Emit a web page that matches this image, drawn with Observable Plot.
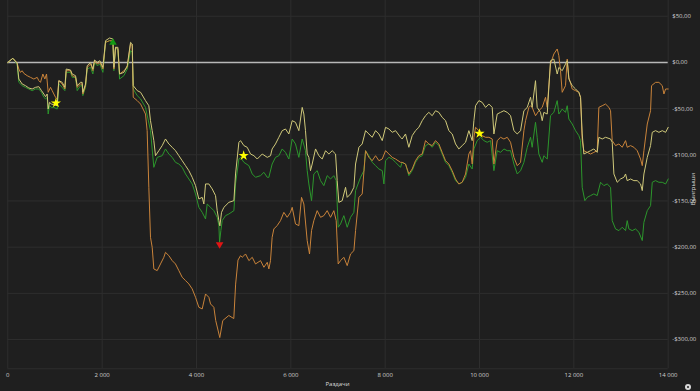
<!DOCTYPE html>
<html><head><meta charset="utf-8">
<script src="https://cdn.jsdelivr.net/npm/d3@7"></script>
<script src="https://cdn.jsdelivr.net/npm/@observablehq/plot@0.6"></script>
<style>
html,body{margin:0;padding:0;background:#1f1f1f;}
#wrap{position:relative;width:700px;height:391px;overflow:hidden;background:#1f1f1f;font-family:"Open Sans",sans-serif;}
#wrap svg{position:absolute;left:0;top:0;}
.ttl{position:absolute;color:#dcdcdc;font-size:6px;white-space:nowrap;}
#xt{left:337.5px;top:380px;transform:translateX(-50%);}
#yt{left:693px;top:189px;transform:translate(-50%,-50%) rotate(-90deg);}
#icon{position:absolute;left:685px;top:384px;width:6px;height:6px;border-radius:50%;background:#d8d8d8;}
#icon::after{content:"";position:absolute;left:2px;top:2px;width:2px;height:2px;border-radius:50%;background:#1f1f1f;}
</style></head><body>
<div id="wrap"><div class="ttl" id="xt">Раздачи</div><div class="ttl" id="yt">Выигрыши</div><div id="icon"></div></div>
<script>
// Hands, winnings ($)
const greenSeries = [
[0,0],[107,4.4],[198,-1.8],[234,-21.6],[305,-25.2],[375,-27.0],[446,-28.8],[517,-30.6],[587,-28.8],[658,-28.8],[715,-32.4],[764,-37.8],[800,-39.6],[835,-37.8],[856,-55.9],[884,-46.9],[927,-48.7],[976,-48.7],[1047,-50.5],[1082,-23.4],[1153,-27.0],[1210,-30.6],[1238,-10.8],[1330,-10.8],[1365,-16.2],[1436,-16.2],[1471,-30.6],[1542,-25.2],[1577,-25.2],[1591,-36.0],[1648,-27.0],[1683,-7.2],[1754,-5.4],[1803,-12.6],[1839,0],[1895,-3.6],[1952,-1.8],[2016,-10.8],[2072,21.7],[2157,23.5],[2228,21.7],[2249,-9.0],[2284,16.3],[2334,12.7],[2369,-18.0],[2461,-14.4],[2532,-7.2],[2602,12.7],[2638,10.9],[2659,-28.8],[2744,-36.0],[2815,-39.6],
[2919,-48.7],[3025,-73.9],[3096,-113.6],[3167,-102.8],[3273,-101.0],[3343,-93.7],[3414,-99.2],[3485,-102.8],[3555,-108.2],[3626,-110.0],[3697,-113.6],[3768,-120.8],[3838,-126.2],[3909,-131.6],[3980,-142.4],[4050,-156.9],[4121,-162.3],[4192,-169.5],[4227,-153.3],[4298,-156.9],[4368,-160.5],[4439,-167.7],[4475,-176.7],[4489,-194.7],[4517,-182.1],[4545,-171.3],[4616,-165.9],[4687,-164.1],[4793,-160.5],[4828,-131.6],[4899,-104.6],[4934,-102.8],[5005,-108.2],[5111,-111.8],[5182,-120.8],[5252,-124.4],[5358,-122.6],[5429,-119.0],[5500,-124.4],[5534,-124.4],
[5604,-110.0],[5675,-102.8],[5746,-101.0],[5817,-93.7],[5887,-97.4],[5958,-104.6],[6029,-82.9],[6099,-88.3],[6170,-102.8],[6241,-82.9],[6311,-95.6],[6347,-117.2],[6382,-131.6],[6439,-149.7],[6488,-120.8],[6559,-117.2],[6630,-128.0],[6700,-133.4],[6771,-122.6],[6842,-126.2],[6912,-122.6],[6962,-128.0],[7004,-178.5],[7054,-174.9],[7124,-165.9],[7195,-178.5],[7266,-167.7],[7337,-162.3],[7372,-138.8],[7478,-124.4],[7549,-117.2],[7584,-95.6],[7655,-101.0],[7725,-108.2],[7796,-111.8],[7867,-115.4],[7938,-117.2],[7973,-131.6],[8008,-106.4],[8079,-102.8],[8150,-104.6],[8220,-108.2],[8326,-113.6],
[8360,-108.2],[8431,-110.0],[8502,-122.6],[8573,-117.2],[8643,-108.2],[8714,-102.8],[8785,-101.0],[8855,-90.1],[8926,-88.3],[8997,-91.9],[9067,-86.5],[9138,-90.1],[9209,-99.2],[9280,-108.2],[9350,-111.8],[9421,-119.0],[9492,-128.0],[9562,-131.6],[9633,-129.8],[9704,-124.4],[9774,-110.0],[9845,-115.4],[9881,-93.7],[9951,-84.7],[10022,-81.1],[10093,-84.7],[10163,-86.5],[10234,-84.7],[10305,-117.2],[10375,-95.6],[10446,-97.4],[10517,-93.7],[10587,-95.6],[10658,-95.6],[10729,-110.0],[10800,-120.8],[10870,-117.2],[10941,-108.2],[11012,-91.9],[11082,-81.1],
[11116,-91.9],[11187,-64.9],[11222,-81.1],[11258,-99.2],[11329,-108.2],[11364,-101.0],[11435,-104.6],[11505,-57.7],[11576,-54.1],[11647,-41.4],[11682,-55.9],[11753,-50.5],[11823,-54.1],[11859,-46.9],[11894,-61.3],[11965,-66.7],[12036,-73.9],[12106,-79.3],[12142,-84.7],[12177,-135.2],[12233,-149.7],[12283,-146.1],[12354,-144.2],[12424,-142.4],[12495,-144.2],[12566,-129.8],[12636,-133.4],[12707,-131.6],[12778,-135.2],[12813,-171.3],[12884,-180.3],[12955,-182.1],[13025,-178.5],[13096,-182.1],[13131,-171.3],[13167,-180.3],[13237,-182.1],[13308,-180.3],[13379,-183.9],[13450,-192.9],[13485,-173.1],[13556,-160.5],[13626,-155.1],[13662,-129.8],[13732,-128.0],[13803,-129.8],[13874,-129.8],[13945,-131.6],[14000,-126.2]
];
const yellowSeries = [
[0,0],[107,4.4],[198,-0.7],[234,-18.0],[305,-23.4],[375,-25.2],[446,-27.7],[517,-28.8],[587,-27.0],[658,-26.3],[715,-30.6],[764,-34.2],[800,-37.1],[835,-34.2],[856,-50.5],[884,-43.3],[927,-45.1],[976,-45.8],[1047,-46.9],[1082,-19.8],[1153,-21.6],[1210,-27.0],[1238,-7.2],[1330,-8.3],[1365,-12.6],[1436,-14.4],[1471,-25.2],[1542,-21.6],[1577,-21.6],[1591,-32.4],[1648,-23.4],[1683,-3.6],[1754,0],[1803,-7.2],[1839,2.6],[1895,0],[1952,1.8],[2016,-5.4],[2072,23.5],[2157,26.4],[2228,25.3],[2249,-5.4],[2284,16.3],[2334,16.3],[2369,-12.6],[2461,-10.8],[2532,-3.6],[2602,21.7],[2638,19.9],[2659,-25.2],[2744,-30.6],[2815,-32.4],
[2919,-41.4],[2990,-46.9],[3025,-63.1],[3061,-73.9],[3096,-84.7],[3131,-101.0],[3202,-95.6],[3273,-90.1],[3343,-82.9],[3414,-88.3],[3485,-91.9],[3555,-95.6],[3626,-101.0],[3697,-106.4],[3768,-111.8],[3838,-117.2],[3909,-124.4],[3980,-133.4],[4050,-147.9],[4121,-146.1],[4156,-153.3],[4192,-131.6],[4262,-131.6],[4333,-137.0],[4404,-144.2],[4439,-160.5],[4475,-171.3],[4496,-177.0],[4531,-162.3],[4581,-156.9],[4687,-151.5],[4793,-149.7],[4828,-120.8],[4899,-86.5],[4934,-84.7],[5005,-90.1],[5075,-91.9],[5146,-99.2],[5217,-101.0],[5288,-104.6],[5394,-99.2],[5500,-102.8],[5570,-101.0],
[5604,-93.7],[5675,-88.3],[5746,-81.1],[5817,-73.9],[5887,-72.1],[5958,-77.5],[6029,-63.1],[6099,-64.9],[6170,-73.9],[6241,-48.7],[6276,-55.9],[6311,-73.9],[6347,-99.2],[6382,-102.8],[6417,-117.2],[6453,-110.0],[6524,-93.7],[6594,-101.0],[6665,-104.6],[6736,-95.6],[6806,-99.2],[6877,-95.6],[6948,-99.2],[6983,-128.0],[7018,-151.5],[7089,-149.7],[7160,-135.2],[7195,-146.1],[7266,-142.4],[7337,-135.2],[7372,-110.0],[7443,-91.9],[7513,-88.3],[7584,-73.9],[7655,-77.5],[7725,-81.1],[7796,-73.9],[7867,-77.5],[7938,-84.7],[8008,-70.3],[8079,-72.1],[8150,-75.7],[8220,-73.9],[8326,-81.1],
[8360,-82.9],[8431,-77.5],[8502,-91.9],[8573,-79.3],[8643,-73.9],[8714,-70.3],[8785,-63.1],[8855,-57.7],[8926,-54.1],[8997,-57.7],[9067,-52.3],[9138,-54.1],[9209,-59.5],[9280,-63.1],[9350,-73.9],[9421,-77.5],[9492,-88.3],[9562,-93.7],[9633,-90.1],[9704,-86.5],[9774,-73.9],[9845,-84.7],[9881,-63.1],[9916,-46.9],[9987,-41.4],[10057,-43.3],[10128,-48.7],[10199,-45.1],[10269,-48.7],[10305,-77.5],[10375,-55.9],[10446,-54.1],[10517,-52.3],[10587,-54.1],[10658,-57.7],[10729,-73.9],[10800,-77.5],[10870,-73.9],[10941,-52.3],[11012,-48.7],[11082,-37.8],
[11116,-48.7],[11187,-19.8],[11222,-48.7],[11293,-54.1],[11329,-63.1],[11364,-54.1],[11435,-55.9],[11505,1.8],[11576,3.6],[11647,-12.6],[11682,-5.4],[11753,-9.0],[11823,-1.8],[11859,1.8],[11894,-18.0],[11965,-25.2],[12036,-28.8],[12106,-32.4],[12142,-37.8],[12177,-77.5],[12212,-99.2],[12283,-97.4],[12354,-95.6],[12424,-93.7],[12495,-97.4],[12530,-81.1],[12601,-82.9],[12672,-81.1],[12778,-82.9],[12813,-86.5],[12849,-120.8],[12919,-129.8],[12990,-126.2],[13061,-124.4],[13096,-120.8],[13131,-128.0],[13202,-126.2],[13273,-128.0],[13343,-128.0],[13414,-131.6],[13450,-138.8],[13485,-120.8],[13556,-102.8],[13626,-90.1],[13662,-75.7],[13732,-73.9],[13803,-75.7],[13874,-73.9],[13945,-75.7],[14000,-70.3]
];
const orangeSeries = [
[0,0],[107,4.4],[198,-0.7],[234,-7.2],[269,-10.8],[305,-9.0],[340,-11.9],[411,-14.4],[481,-16.2],[552,-18.0],[623,-16.2],[658,-19.8],[693,-21.6],[743,-12.6],[785,-18.0],[821,-12.6],[856,-32.4],[906,-27.0],[941,-30.6],[976,-34.2],[1012,-37.8],[1047,-39.6],[1082,-19.8],[1153,-23.4],[1210,-28.8],[1238,-9.0],[1330,-9.0],[1365,-14.4],[1436,-16.2],[1471,-27.0],[1542,-23.4],[1577,-23.4],[1591,-34.2],[1648,-25.2],[1683,-5.4],[1754,-1.8],[1803,-9.0],[1839,1.8],[1895,-1.8],[1952,0],[2016,-7.2],[2072,21.7],[2157,23.5],[2228,23.5],[2249,-7.2],[2284,16.3],[2334,14.5],[2369,-12.6],[2461,-9.0],[2532,-5.4],[2602,19.9],[2638,18.1],[2659,-37.8],[2744,-41.4],[2815,-45.1],
[2919,-55.9],[2954,-73.9],[2990,-135.2],[3025,-189.3],[3061,-200.2],[3096,-223.6],[3167,-225.4],[3237,-218.2],[3308,-211.0],[3343,-205.6],[3414,-209.2],[3485,-214.6],[3555,-218.2],[3626,-225.4],[3697,-232.6],[3768,-236.2],[3838,-239.8],[3909,-245.2],[3980,-254.3],[4050,-265.1],[4121,-266.9],[4192,-250.7],[4262,-254.3],[4298,-261.5],[4368,-265.1],[4408,-279.5],[4494,-297.9],[4557,-279.5],[4685,-274.0],[4791,-277.3],[4830,-240.0],[4880,-214.0],[4934,-209.2],[4969,-211.0],[5040,-207.4],[5111,-214.6],[5182,-211.0],[5252,-218.2],[5358,-214.6],[5429,-221.8],[5500,-216.4],[5534,-223.6],
[5569,-214.6],[5604,-189.3],[5640,-180.3],[5710,-176.7],[5781,-171.3],[5852,-162.3],[5923,-167.7],[5993,-162.3],[6029,-156.9],[6099,-174.9],[6170,-176.7],[6227,-146.1],[6276,-153.3],[6347,-192.9],[6396,-207.4],[6439,-182.1],[6488,-171.3],[6559,-160.5],[6630,-167.7],[6700,-165.9],[6771,-160.5],[6842,-167.7],[6912,-160.5],[6962,-171.3],[7004,-218.2],[7054,-214.6],[7124,-211.0],[7195,-220.0],[7266,-207.4],[7337,-203.8],[7372,-182.1],[7443,-146.1],[7513,-142.4],[7584,-95.6],[7655,-102.8],[7725,-106.4],[7796,-101.0],[7867,-106.4],[7938,-104.6],[8008,-95.6],[8079,-99.2],[8150,-102.8],[8220,-104.6],[8326,-108.2],
[8360,-108.2],[8431,-110.0],[8502,-120.8],[8573,-115.4],[8643,-106.4],[8714,-101.0],[8785,-99.2],[8855,-84.7],[8926,-88.3],[8997,-90.1],[9067,-84.7],[9138,-88.3],[9209,-97.4],[9280,-106.4],[9350,-110.0],[9421,-117.2],[9492,-126.2],[9562,-131.6],[9633,-129.8],[9704,-120.8],[9774,-99.2],[9810,-95.6],[9845,-110.0],[9881,-81.1],[9916,-70.3],[9987,-73.9],[10057,-79.3],[10128,-81.1],[10199,-81.1],[10269,-82.9],[10305,-110.0],[10375,-84.7],[10446,-81.1],[10517,-82.9],[10587,-81.1],[10658,-86.5],[10729,-102.8],[10800,-111.8],[10870,-108.2],[10941,-73.9],[10976,-63.1],[11047,-48.7],[11082,-46.9],
[11116,-48.7],[11187,-57.7],[11258,-52.3],[11329,-48.7],[11399,-37.8],[11435,-48.7],[11505,-1.8],[11576,9.1],[11647,14.5],[11682,7.2],[11717,-9.0],[11753,-32.4],[11823,-25.2],[11859,3.6],[11894,-16.2],[11965,-28.8],[12036,-30.6],[12106,-32.4],[12142,-37.8],[12177,-84.7],[12212,-95.6],[12283,-97.4],[12354,-99.2],[12424,-97.4],[12495,-95.6],[12530,-48.7],[12601,-46.9],[12672,-45.1],[12743,-48.7],[12778,-52.3],[12813,-84.7],[12884,-90.1],[12955,-88.3],[13025,-91.9],[13096,-84.7],[13131,-91.9],[13202,-90.1],[13273,-91.9],[13343,-95.6],[13414,-104.6],[13450,-111.8],[13485,-95.6],[13556,-66.7],[13626,-52.3],[13647,-25.2],[13732,-21.6],[13803,-21.6],[13874,-25.2],[13909,-34.2],[13945,-28.8],[14000,-28.8]
];
const starMarkers = [[1020,-44],[5000,-101],[10000,-77]];
const maxMarker = [[2230,21.5]];
const minMarker = [[4490,-197]];
const xTicks = [0,2000,4000,6000,8000,10000,12000,14000];
const yTicks = [50,0,-50,-100,-150,-200,-250,-300];
const yDomain = [-331.7, 67];

const gridColor = "#2e2e2e";
const fmtX = v => v >= 1000 ? `${Math.floor(v/1000)} ${String(v%1000).padStart(3,"0")}` : String(v);
const fmtY = v => `${v < 0 ? "-" : ""}$${Math.abs(v)},00`;
const X = d => d[0], Y = d => d[1];

const chart = Plot.plot({
  width: 700, height: 391,
  marginLeft: 7.3, marginRight: 32.3, marginTop: 0, marginBottom: 22.7,
  style: {background: "transparent", color: "#cfcfcf", fontFamily: "'Open Sans', sans-serif", fontSize: "6px"},
  x: {domain: [0, 14000]},
  y: {domain: yDomain},
  marks: [
    Plot.ruleX(xTicks, {stroke: gridColor, strokeWidth: 1}),
    Plot.ruleY(yTicks, {stroke: gridColor, strokeWidth: 1}),
    Plot.ruleY([yDomain[0]], {stroke: gridColor, strokeWidth: 1}),
    Plot.ruleY([0], {stroke: "#b8b8b8", strokeWidth: 1.5}),
    Plot.line(greenSeries, {x: X, y: Y, stroke: "#2c962c", strokeWidth: 1}),
    Plot.line(orangeSeries, {x: X, y: Y, stroke: "#c9833a", strokeWidth: 1}),
    Plot.line(yellowSeries, {x: X, y: Y, stroke: "#d0c97a", strokeWidth: 1}),
    Plot.dot(starMarkers, {x: X, y: Y, symbol: "star", fill: "#ffff00", r: 3.2}),
    Plot.dot(maxMarker, {x: X, y: Y, symbol: "triangle", fill: "#139a13", r: 2.8}),
    Plot.dot(minMarker, {x: X, y: Y, symbol: "triangle", fill: "#e01515", r: 2.8, rotate: 180}),
    Plot.axisY({anchor: "right", ticks: yTicks, tickSize: 0, tickPadding: 4, tickFormat: fmtY, textAnchor: "start", label: null, fill: "#cfcfcf"}),
    Plot.axisX({anchor: "bottom", ticks: xTicks, tickSize: 0, tickPadding: 4, tickFormat: fmtX, label: null, fill: "#cfcfcf"})
  ]
});
document.getElementById("wrap").prepend(chart);
</script>
</body></html>
